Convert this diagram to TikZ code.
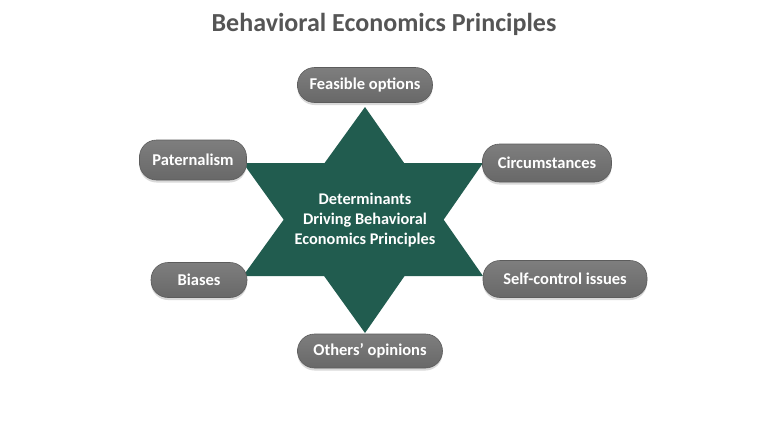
\documentclass[tikz,border=0pt]{standalone}
\usepackage{fontspec}
\setmainfont{Carlito}
\usepackage{xcolor}
\definecolor{ColStar}{RGB}{33,92,79}
\definecolor{ColPillTop}{RGB}{126,126,126}
\definecolor{ColPillBot}{RGB}{104,104,104}
\definecolor{ColPillLine}{RGB}{92,92,92}
\definecolor{ColTitle}{RGB}{85,85,85}
\usepackage{tikz}
\usetikzlibrary{shadows}
\tikzstyle{Pill}=[rectangle,rounded corners=17pt,draw=ColPillLine,line width=0.6pt,
    top color=ColPillTop,bottom color=ColPillBot,text=white,
    font=\fontsize{16.5}{19}\selectfont\bfseries,minimum height=36pt,
    inner xsep=10pt,
    drop shadow={shadow xshift=0pt,shadow yshift=-2.5pt,fill=black!25,opacity=0.6}]
\tikzstyle{Title}=[text=ColTitle,font=\fontsize{26}{30}\selectfont\bfseries]
\tikzstyle{Core}=[text=white,align=center,
    font=\fontsize{16.3}{20}\selectfont\bfseries]

\begin{document}
\begin{tikzpicture}[x=1pt,y=-1pt]
        \useasboundingbox(0,0)rectangle(768,432);
        \node[Title](T)at(384,24){Behavioral Economics Principles};
        % the six-pointed star
        \coordinate(N)at(365,107);
        \coordinate(S)at(365,333);
        \coordinate(NW)at(243,163);
        \coordinate(NE)at(483,163);
        \coordinate(SW)at(243,276);
        \coordinate(SE)at(483,276);
        \fill[ColStar](N)--(SW)--(SE)--cycle;
        \fill[ColStar](NW)--(NE)--(S)--cycle;
        \node[Core](C)at(365,220){Determinants\\Driving Behavioral\\Economics Principles};
        % the determinants
        \node[Pill,minimum width=135pt,minimum height=35pt](F)at(365,85){Feasible options};
        \node[Pill,minimum width=107pt,minimum height=40pt](P)at(193,160){Paternalism};
        \node[Pill,minimum width=129pt,minimum height=38pt](Ci)at(547,163){Circumstances};
        \node[Pill,minimum width=96pt,minimum height=35pt](B)at(199,280){Biases};
        \node[Pill,minimum width=164pt,minimum height=37pt](Sc)at(565,279){Self-control issues};
        \node[Pill,minimum width=145pt,minimum height=34pt](O)at(370,351){Others’ opinions};
    \end{tikzpicture}
\end{document}
